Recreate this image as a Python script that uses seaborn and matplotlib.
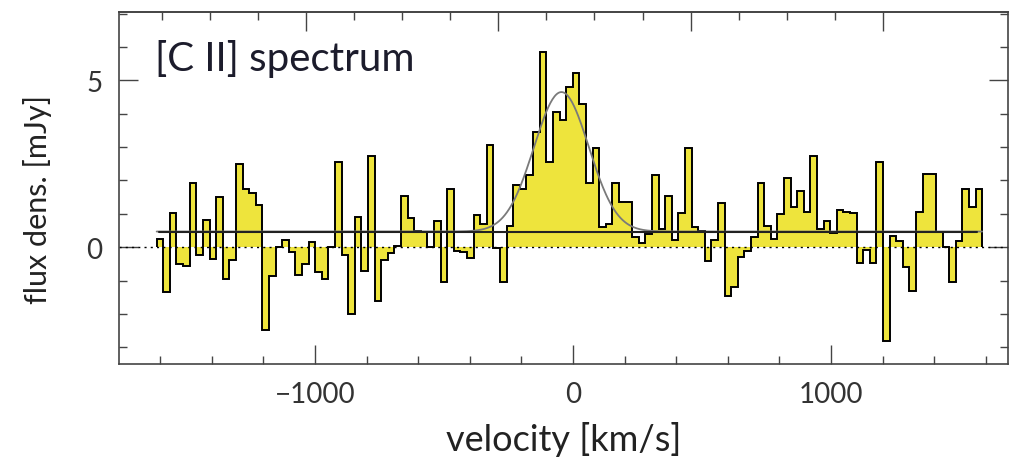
import numpy as np
import pandas as pd
import matplotlib
matplotlib.use("Agg")
import matplotlib.pyplot as plt
from matplotlib.ticker import MultipleLocator, FixedLocator, NullFormatter
import seaborn as sns

# [C II] spectrum: flux density per velocity channel (mJy)
v_start = -1614.0      # left edge of first channel, km/s
dv = 25.6              # channel width, km/s
flux = [
    0.25, -1.35, 1.03, -0.49, -0.55, 1.93, -0.22, 0.81, -0.35, 1.51,
    -0.95, -0.37, 2.48, 1.73, 1.63, 1.28, -2.49, -0.87, 0.0, 0.22,
    -0.15, -0.82, -0.5, 0.16, -0.75, -0.96, 0.0, 2.56, -0.22, -2.0,
    0.92, -0.71, 2.72, -1.6, -0.38, -0.18, 0.05, 1.52, 0.88, 0.48,
    0.47, 0.0, 0.8, -1.04, 1.75, -0.12, -0.14, -0.33, 0.97, 0.7,
    3.05, -0.02, -1.05, 0.63, 1.85, 1.75, 2.15, 3.45, 5.85, 2.55,
    4.04, 3.82, 4.81, 5.22, 4.28, 1.93, 2.98, 0.6, 0.7, 1.93,
    1.35, 1.35, 0.3, 0.12, 0.4, 2.15, 0.55, 1.53, 0.23, 1.04,
    2.96, 0.62, 0.48, -0.41, 0.22, 1.34, -1.45, -1.2, -0.3, -0.1,
    0.3, 1.92, 0.65, 0.25, 1.0, 2.08, 1.2, 1.68, 1.05, 2.73,
    0.55, 0.8, 0.42, 1.12, 1.05, 1.04, -0.48, -0.07, -0.48, 2.56,
    -2.82, 0.33, 0.18, -0.58, -1.3, 1.05, 2.18, 2.18, 0.46, 0.0,
    -1.05, 0.19, 1.75, 1.21, 1.75,
]

# Gaussian line fit on top of a flat continuum
continuum = 0.47       # mJy
line_peak = 4.18       # mJy above continuum
line_center = -45.0    # km/s
line_fwhm = 250.0      # km/s

x_limits = (-1760, 1686)
y_limits = (-3.5, 7.05)
x_major = [-1000, 0, 1000]
y_major = [0, 5]

sns.set_theme(style="ticks")
plt.rcParams["font.family"] = ["Lato", "DejaVu Sans"]

flux = np.asarray(flux)
edges = v_start + dv * np.arange(len(flux) + 1)

fig = plt.figure(figsize=(10.13, 4.64), dpi=100)
ax = fig.add_axes([0.1175, 0.2134, 0.8775, 0.7586])

# filled step spectrum
ax.stairs(flux, edges, baseline=0, fill=True, color="#eee43c", lw=0, zorder=1)
ax.stairs(flux, edges, baseline=0, fill=False, color="black", lw=1.4, zorder=3)

# zero level
ax.axhline(0, color="black", lw=1.0, ls=(0, (1.5, 3)), zorder=2)

# Gaussian model and continuum
sigma = line_fwhm / (2 * np.sqrt(2 * np.log(2)))
vg = np.linspace(edges[0], edges[-1], 800)
model = pd.DataFrame({
    "velocity": vg,
    "flux": continuum + line_peak * np.exp(-0.5 * ((vg - line_center) / sigma) ** 2),
})
sns.lineplot(data=model, x="velocity", y="flux", color="#7a7a7a", lw=1.3, ax=ax, zorder=4)
cont = pd.DataFrame({"velocity": [edges[0] + 10, edges[-1] - 20],
                     "flux": [continuum, continuum]})
sns.lineplot(data=cont, x="velocity", y="flux", color="#222222", lw=1.5, ax=ax, zorder=5)

ax.set_xlim(*x_limits)
ax.set_ylim(*y_limits)

ax.xaxis.set_major_locator(FixedLocator(x_major))
ax.xaxis.set_minor_locator(MultipleLocator(200))
ax.yaxis.set_major_locator(FixedLocator(y_major))
ax.yaxis.set_minor_locator(MultipleLocator(1))
ax.set_xticklabels(["\u22121000", "0", "1000"])

tick_col = "#444444"
ax.tick_params(which="both", direction="in", colors=tick_col, labelcolor="#333333",
               right=True, width=1.0)
ax.tick_params(which="major", length=14, labelsize=20, pad=12)
ax.tick_params(which="minor", length=6)

# top axis: frequency scale, ticks only
top_step = 186.4
top_minor = 1201.6 - top_step * np.arange(0, 16)
top_major = top_minor[::4]
sec = ax.secondary_xaxis("top")
sec.xaxis.set_major_locator(FixedLocator(top_major))
sec.xaxis.set_minor_locator(FixedLocator(top_minor))
sec.xaxis.set_major_formatter(NullFormatter())
sec.tick_params(which="both", direction="in", colors=tick_col, width=1.0)
sec.tick_params(which="major", length=14)
sec.tick_params(which="minor", length=6)
sec.spines["top"].set_color(tick_col)

for s in ax.spines.values():
    s.set_color(tick_col)
    s.set_linewidth(1.2)

ax.set_xlabel("velocity [km/s]", fontsize=26, color="#222222", labelpad=10)
ax.set_ylabel("flux dens. [mJy]", fontsize=22, color="#222222", labelpad=12)
ax.yaxis.set_label_coords(-0.075, 0.47)

ax.text(0.04, 0.87, "[C II] spectrum", transform=ax.transAxes, fontsize=29,
        color="#1c1c2c", ha="left", va="center")

fig.savefig("out.png", dpi=100)
